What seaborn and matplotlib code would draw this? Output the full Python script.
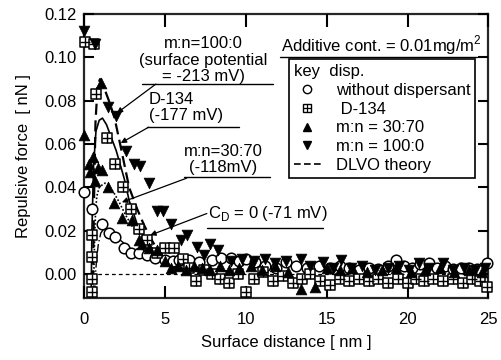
import matplotlib
matplotlib.use("Agg")
import matplotlib.pyplot as plt
from matplotlib.lines import Line2D
import pandas as pd
import seaborn as sns

# ---- measured points (read off the figure) ----
# without dispersant (open circles)
dist_none = [0.0, 0.5, 1.1, 1.55, 1.95, 2.5, 2.9, 3.4, 3.9, 4.4, 5.0, 5.5, 5.9, 6.5, 7.1,
             7.9, 8.5, 9.1, 9.6, 10.0, 10.6, 11.2, 11.9, 12.5, 13.1, 13.8, 14.5, 15.2,
             15.8, 16.4, 17.0, 17.6, 18.2, 18.8, 19.3, 19.8, 20.3, 20.8, 21.3, 21.8,
             22.3, 22.8, 23.3, 23.8, 24.3, 24.9]
force_none = [0.038, 0.030, 0.023, 0.019, 0.017, 0.012, 0.010, 0.0097, 0.009, 0.0074,
              0.0065, 0.006, 0.0065, 0.0065, 0.0055, 0.0065, 0.0074, 0.0074, 0.006,
              0.0070, 0.0055, 0.004, 0.003, 0.0055, 0.004, 0.003, 0.004, 0.003, 0.004,
              0.0028, 0.002, 0.003, 0.0025, 0.004, 0.0065, 0.004, 0.003, 0.0045, 0.005,
              0.003, 0.004, 0.0025, 0.003, 0.003, 0.0025, 0.005]

# D-134 (crossed squares)
dist_d134 = [0.1, 0.6, 0.75, 0.5, 0.5, 0.5, 0.5, 1.45, 1.95, 2.4, 2.9, 3.4, 3.9, 4.5,
             5.0, 5.6, 6.1, 6.5, 6.9, 7.4, 7.9, 8.4, 9.0, 9.5, 10.0, 10.5, 11.1, 11.7,
             12.3, 12.9, 13.5, 14.0, 14.6, 15.2, 15.8, 16.4, 17.0, 17.6, 18.2, 18.8,
             19.4, 20.0, 20.5, 21.0, 21.6, 22.2, 22.8, 23.4, 24.0, 24.5, 24.9]
force_d134 = [0.107, 0.106, 0.083, 0.018, 0.008, -0.002, -0.008, 0.063, 0.051, 0.040,
              0.030, 0.021, 0.016, 0.010, 0.012, 0.012, 0.007, 0.003, -0.003, 0.002,
              0.000, -0.002, -0.004, 0.000, -0.008, -0.002, 0.001, -0.003, -0.001,
              -0.004, -0.002, 0.000, -0.003, -0.005, -0.002, -0.003, -0.002, -0.003,
              -0.002, -0.004, -0.002, -0.004, -0.002, -0.003, -0.002, -0.003, -0.002,
              -0.004, -0.002, -0.003, -0.006]

# m:n = 30:70 (filled up triangles)
dist_3070 = [0.0, 0.3, 0.4, 0.55, 0.7, 0.9, 1.05, 1.15, 1.5, 1.85, 2.35, 3.0, 3.4, 3.6,
             4.0, 4.5, 5.0, 5.4, 5.8, 6.3, 6.8, 7.3, 7.8, 8.4, 9.0, 9.6, 10.3, 11.0,
             11.8, 12.6, 13.4, 14.3, 15.0, 15.8, 16.6, 17.5, 18.4, 19.3, 20.2, 21.1,
             22.0, 22.9, 23.8, 24.6]
force_3070 = [0.064, 0.051, 0.047, 0.054, 0.043, 0.049, 0.088, 0.048, 0.040, 0.033,
              0.026, 0.025, 0.016, 0.014, 0.012, 0.011, 0.006, 0.003, 0.004, 0.002,
              0.004, 0.003, 0.002, 0.004, 0.002, 0.003, 0.004, 0.002, 0.004, 0.001,
              -0.007, -0.006, 0.003, 0.002, 0.003, 0.001, 0.002, 0.003, 0.001, 0.002,
              0.003, 0.001, 0.002, 0.001]

# m:n = 100:0 (filled down triangles)
dist_1000 = [0.0, 0.7, 1.5, 2.0, 2.6, 3.1, 3.5, 4.0, 4.5, 4.9, 5.4, 6.0, 6.4, 7.0, 7.4,
             7.8, 8.3, 9.1, 9.8, 10.5, 11.2, 11.8, 12.5, 13.4, 14.0, 14.8, 15.4, 15.9,
             16.5, 17.2, 18.0, 18.8, 19.5, 20.1, 20.7, 21.3, 22.2, 22.8, 23.5, 24.2,
             24.8]
force_1000 = [0.112, 0.106, 0.077, 0.073, 0.057, 0.051, 0.050, 0.042, 0.029, 0.029,
              0.023, 0.016, 0.018, 0.0125, 0.009, 0.014, 0.011, 0.006, 0.007, 0.006,
              0.007, 0.005, 0.006, 0.007, 0.004, 0.0055, 0.003, 0.0065, 0.003, 0.004,
              0.002, 0.003, 0.004, 0.002, 0.005, 0.003, 0.005, 0.002, 0.003, 0.002,
              0.003]

# DLVO theory curves (traced points)
theo_1000_x = [0.55, 0.62, 0.72, 0.85, 1.0, 1.3, 1.6, 1.9, 2.3, 2.8, 3.3, 3.7, 4.1, 4.8,
               5.5, 6.5, 8.0]
theo_1000_y = [-0.011, 0.03, 0.07, 0.087, 0.090, 0.085, 0.079, 0.072, 0.058, 0.040,
               0.030, 0.023, 0.017, 0.008, 0.003, 0.001, 0.0]
theo_d134_x = [0.45, 0.5, 0.6, 0.75, 0.95, 1.15, 1.4, 1.7, 2.0, 2.5, 2.8, 3.3, 3.8, 4.6,
               5.5, 6.5, 8.0]
theo_d134_y = [-0.011, 0.02, 0.05, 0.066, 0.071, 0.072, 0.069, 0.063, 0.057, 0.044,
               0.034, 0.023, 0.016, 0.008, 0.004, 0.002, 0.0]
theo_3070_x = [0.6, 0.62, 0.66, 0.72, 0.8, 0.95, 1.1, 1.3, 1.55, 1.9, 2.2, 2.6, 3.0, 3.7,
               4.5, 5.5, 7.0, 9.0]
theo_3070_y = [-0.011, 0.0, 0.015, 0.028, 0.036, 0.040, 0.041, 0.042, 0.041, 0.037,
               0.033, 0.027, 0.022, 0.016, 0.010, 0.006, 0.003, 0.001]
theo_none_x = [0.68, 0.72, 0.8, 0.9, 1.05, 1.25, 1.5, 1.8, 2.2, 2.7, 3.3, 4.0, 5.0, 6.0,
               8.0, 10.0]
theo_none_y = [-0.011, 0.0, 0.008, 0.014, 0.019, 0.021, 0.021, 0.019, 0.016, 0.013,
               0.010, 0.008, 0.006, 0.004, 0.002, 0.001]

x_ticks = [0, 5, 10, 15, 20, 25]
y_ticks = [0.00, 0.02, 0.04, 0.06, 0.08, 0.10, 0.12]

sns.set_theme(style="ticks")
plt.rcParams.update({
    "font.family": ["Liberation Sans", "DejaVu Sans"],
    "axes.linewidth": 1.6,
    "axes.axisbelow": False,
    "text.color": "black",
    "axes.labelcolor": "black",
    "xtick.color": "black",
    "ytick.color": "black",
})

fig = plt.figure(figsize=(5.02, 3.6), dpi=100)
ax = fig.add_axes([0.167, 0.172, 0.806, 0.789])

# theory curves
curves = [
    (theo_1000_x, theo_1000_y, (0, (5, 2.5)), 1.6),
    (theo_d134_x, theo_d134_y, "-", 1.2),
    (theo_3070_x, theo_3070_y, (0, (1, 1.2)), 1.2),
    (theo_none_x, theo_none_y, (0, (6, 2, 1, 2)), 1.0),
]
for cx, cy, ls, lw in curves:
    sns.lineplot(x=cx, y=cy, sort=False, estimator=None, color="black",
                 linestyle=ls, linewidth=lw, ax=ax)

ax.axhline(0, color="black", linestyle=(0, (3, 2.5)), linewidth=0.9, zorder=1)

# measured data
df_none = pd.DataFrame({"d": dist_none, "f": force_none})
df_d134 = pd.DataFrame({"d": dist_d134, "f": force_d134})
df_3070 = pd.DataFrame({"d": dist_3070, "f": force_3070})
df_1000 = pd.DataFrame({"d": dist_1000, "f": force_1000})

sns.scatterplot(data=df_none, x="d", y="f", marker="o", s=58, color="white",
                edgecolor="black", linewidth=1.1, ax=ax, zorder=3, clip_on=False)
sns.scatterplot(data=df_d134, x="d", y="f", marker="s", s=48, color="white",
                edgecolor="black", linewidth=1.1, ax=ax, zorder=4, clip_on=False)
sns.scatterplot(data=df_d134, x="d", y="f", marker="+", s=46, color="black",
                linewidth=1.0, ax=ax, zorder=5, clip_on=False)
sns.scatterplot(data=df_3070, x="d", y="f", marker="^", s=60, color="black",
                edgecolor="black", linewidth=0.5, ax=ax, zorder=4, clip_on=False)
sns.scatterplot(data=df_1000, x="d", y="f", marker="v", s=60, color="black",
                edgecolor="black", linewidth=0.5, ax=ax, zorder=4, clip_on=False)

ax.set_xlim(0, 25)
ax.set_ylim(-0.011, 0.12)
ax.set_xticks(x_ticks)
ax.set_yticks(y_ticks)
ax.set_yticklabels([f"{v:.2f}" for v in y_ticks])
ax.tick_params(direction="in", top=True, right=True, width=1.5, labelsize=12)
ax.tick_params(axis="x", length=9, pad=10)
ax.tick_params(axis="y", length=7, pad=5)
ax.set_xlabel("Surface distance [ nm ]", fontsize=12, labelpad=6)
ax.set_ylabel("Repulsive force  [ nN ]", fontsize=12, labelpad=10)

# annotations
arrow = dict(arrowstyle="-|>", color="black", lw=0.9, mutation_scale=8,
             shrinkA=0, shrinkB=0)
fs = 12

ax.text(7.4, 0.1100, "m:n=100:0\n(surface potential\n= -213 mV)", ha="center",
        va="top", fontsize=fs, linespacing=1.15)
ax.plot([3.6, 11.7], [0.0877, 0.0877], color="black", lw=1.0)
ax.annotate("", xy=(2.04, 0.0743), xytext=(4.45, 0.0877), arrowprops=arrow)

ax.text(4.0, 0.0840, "D-134\n(-177 mV)", ha="left", va="top", fontsize=fs,
        linespacing=1.1)
ax.plot([3.9, 9.6], [0.0678, 0.0678], color="black", lw=1.0)
ax.annotate("", xy=(2.28, 0.0605), xytext=(4.0, 0.0678), arrowprops=arrow)

ax.text(8.6, 0.0600, "m:n=30:70\n(-118mV)", ha="center", va="top", fontsize=fs,
        linespacing=1.1)
ax.plot([6.2, 11.5], [0.0448, 0.0448], color="black", lw=1.0)
ax.annotate("", xy=(2.35, 0.0332), xytext=(6.35, 0.0443), arrowprops=arrow)

ax.text(7.7, 0.028, "C$_\\mathregular{D}$ = 0 (-71 mV)", ha="left", va="center",
        fontsize=fs)
ax.plot([7.6, 14.8], [0.0212, 0.0212], color="black", lw=1.0)
ax.annotate("", xy=(4.1, 0.018), xytext=(7.6, 0.028), arrowprops=arrow)

ax.text(12.2, 0.1055, "Additive cont. = 0.01mg/m$^\\mathregular{2}$", ha="left",
        va="center", fontsize=fs)
ax.plot([12.15, 24.3], [0.1001, 0.1001], color="black", lw=1.0)

# legend
h_none = Line2D([], [], marker="o", ls="none", mfc="white", mec="black", ms=6)
h_sq = Line2D([], [], marker="s", ls="none", mfc="white", mec="black", ms=5.5)
h_pl = Line2D([], [], marker="+", ls="none", mec="black", ms=5.5, mew=0.9)
h_up = Line2D([], [], marker="^", ls="none", mfc="black", mec="black", ms=6)
h_dn = Line2D([], [], marker="v", ls="none", mfc="black", mec="black", ms=6)
h_th = Line2D([], [], color="black", ls=(0, (4, 2)), lw=1.2)
leg = ax.legend([h_none, (h_sq, h_pl), h_up, h_dn, h_th],
                ["without dispersant", " D-134", "m:n = 30:70", "m:n = 100:0",
                 "DLVO theory"],
                title="key  disp.", alignment="left", loc="upper left",
                bbox_to_anchor=(0.507, 0.84), fontsize=fs, title_fontsize=fs,
                frameon=True, fancybox=False, edgecolor="black", framealpha=1,
                handlelength=1.6, handletextpad=0.9, labelspacing=0.22,
                borderpad=0.3, borderaxespad=0)
leg.get_frame().set_linewidth(1.2)

fig.savefig("out.png", dpi=100)
